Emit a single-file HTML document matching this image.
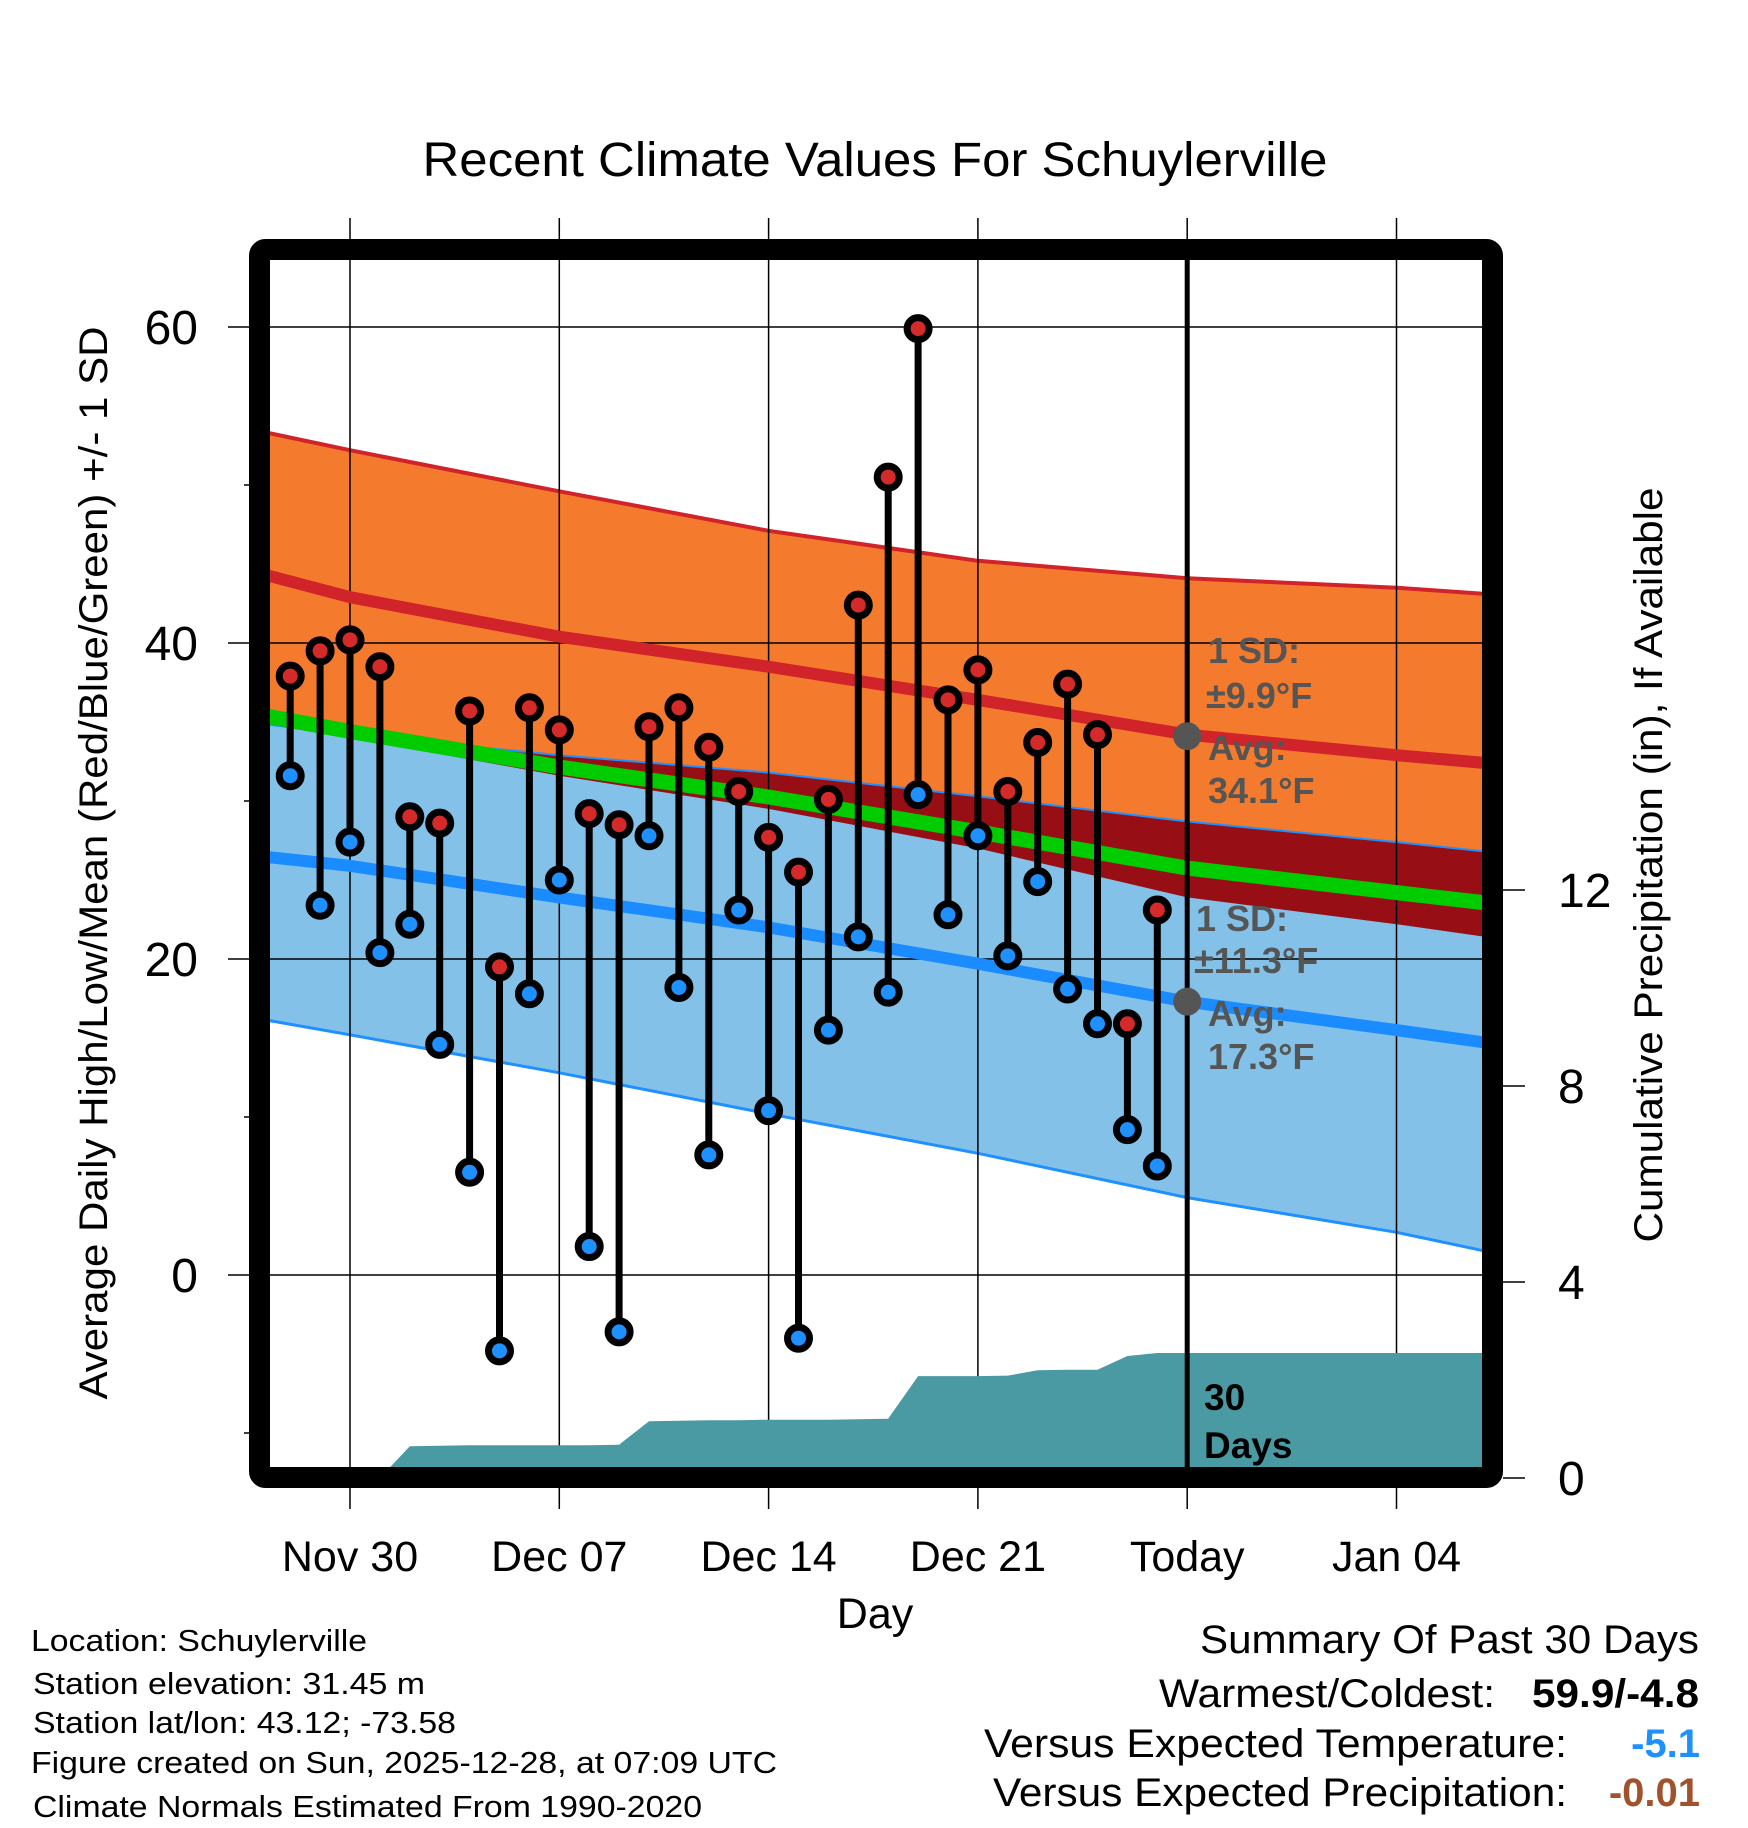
<!DOCTYPE html>
<html><head><meta charset="utf-8"><style>
html,body{margin:0;padding:0;background:#fff;}
svg{display:block;font-family:"Liberation Sans",sans-serif;}
</style></head><body>
<svg id="chart" width="1748" height="1828" viewBox="0 0 1748 1828" xmlns="http://www.w3.org/2000/svg">
<defs><clipPath id="plotclip"><rect x="270" y="260" width="1213" height="1208"/></clipPath></defs>
<rect width="1748" height="1828" fill="#fff"/>
<text x="875" y="176" font-size="48" text-anchor="middle" textLength="905" lengthAdjust="spacingAndGlyphs">Recent Climate Values For Schuylerville</text>
<g id="bands" clip-path="url(#plotclip)"></g>
<g id="grid"></g>
<g id="precip" clip-path="url(#plotclip)"></g>
<g id="lines" clip-path="url(#plotclip)"></g>
<g id="marks"></g>
<g id="annot" font-weight="bold" fill="#555" font-size="36">
<text x="1208" y="663">1 SD:</text>
<text x="1206" y="708">±9.9°F</text>
<text x="1208" y="760">Avg:</text>
<text x="1208" y="803">34.1°F</text>
<text x="1196" y="931">1 SD:</text>
<text x="1194" y="973">±11.3°F</text>
<text x="1208" y="1026">Avg:</text>
<text x="1208" y="1069">17.3°F</text>
</g>
<text x="1204" y="1410" font-size="37" font-weight="bold">30</text>
<text x="1204" y="1458" font-size="37" font-weight="bold">Days</text>
<rect x="259.5" y="249.5" width="1233" height="1228" rx="6" fill="none" stroke="#000" stroke-width="21"/>
<g id="axes"></g>
<text transform="translate(107,863) rotate(-90)" font-size="40" text-anchor="middle" textLength="1073" lengthAdjust="spacingAndGlyphs">Average Daily High/Low/Mean (Red/Blue/Green) +/- 1 SD</text>
<text transform="translate(1662,865) rotate(-90)" font-size="40" text-anchor="middle" textLength="755" lengthAdjust="spacingAndGlyphs">Cumulative Precipitation (in), If Available</text>
<text x="875" y="1628" font-size="43" text-anchor="middle">Day</text>
<g font-size="31">
<text x="31" y="1651" textLength="336" lengthAdjust="spacingAndGlyphs">Location: Schuylerville</text>
<text x="33" y="1694" textLength="392" lengthAdjust="spacingAndGlyphs">Station elevation: 31.45 m</text>
<text x="33" y="1733" textLength="423" lengthAdjust="spacingAndGlyphs">Station lat/lon: 43.12; -73.58</text>
<text x="31" y="1773" textLength="746" lengthAdjust="spacingAndGlyphs">Figure created on Sun, 2025-12-28, at 07:09 UTC</text>
<text x="33" y="1817" textLength="669" lengthAdjust="spacingAndGlyphs">Climate Normals Estimated From 1990-2020</text>
</g>
<g font-size="40" text-anchor="end">
<text x="1699" y="1653" textLength="499" lengthAdjust="spacingAndGlyphs">Summary Of Past 30 Days</text>
<text x="1495" y="1707" textLength="336" lengthAdjust="spacingAndGlyphs">Warmest/Coldest:</text>
<text x="1699" y="1707" font-weight="bold" textLength="167" lengthAdjust="spacingAndGlyphs">59.9/-4.8</text>
<text x="1567" y="1757" textLength="583" lengthAdjust="spacingAndGlyphs">Versus Expected Temperature:</text>
<text x="1700" y="1757" font-weight="bold" fill="#1e90ff">-5.1</text>
<text x="1567" y="1806" textLength="574" lengthAdjust="spacingAndGlyphs">Versus Expected Precipitation:</text>
<text x="1700" y="1806" font-weight="bold" fill="#a0522d">-0.01</text>
</g>
</svg>
<script>
const days = [-2,-1,0,1,2,3,4,5,6,7,8,9,10,11,12,13,14,15,16,17,18,19,20,21,22,23,24,25,26,27];
const highs = [37.9,39.5,40.2,38.5,29.0,28.6,35.7,19.5,35.9,34.5,29.2,28.5,34.7,35.9,33.4,30.6,27.7,25.5,30.1,42.4,50.5,59.9,36.4,38.3,30.6,33.7,37.4,34.2,15.9,23.1];
const lows = [31.6,23.4,27.4,20.4,22.2,14.6,6.5,-4.8,17.8,25.0,1.8,-3.6,27.8,18.2,7.6,23.1,10.4,-4.0,15.5,21.4,17.9,30.4,22.8,27.8,20.2,24.9,18.1,15.9,9.2,6.9];
const precip = [0,0,0,0,0.65,0.66,0.67,0.67,0.67,0.67,0.67,0.68,1.16,1.17,1.18,1.18,1.19,1.19,1.19,1.2,1.21,2.08,2.08,2.08,2.09,2.2,2.21,2.21,2.49,2.55];
const normDays = [-3,0,7,14,21,28,35,38];
const highTop = [53.4,52.2,49.6,47.1,45.2,44.1,43.5,43.1];
const highAvg = [44.4,42.9,40.4,38.5,36.4,34.2,32.9,32.4];
const highBot = [34.9,34.0,31.6,29.5,27.0,23.9,22.2,21.4];
const lowTop = [34.9,34.2,32.9,31.8,30.3,28.7,27.4,26.8];
const lowAvg = [26.5,25.9,23.9,22.0,19.7,17.3,15.5,14.7];
const lowBot = [16.2,15.2,12.8,10.2,7.7,4.9,2.7,1.5];
const xTickDays = [0,7,14,21,28,35];
const xTickLabels = ["Nov 30","Dec 07","Dec 14","Dec 21","Today","Jan 04"];
const yTicks = [0,20,40,60];
const yMinor = [-10,10,30,50];
const y2Ticks = [0,4,8,12];
const todayDay = 28;
const todayHigh = 34.1, todayLow = 17.3;

const NS="http://www.w3.org/2000/svg";
const X = d => 350 + d*29.9;
const Y = t => 1275 - t*15.8;
const PY = p => 1478 - p*49;
function mk(parent, tag, attrs){const e=document.createElementNS(NS,tag);for(const k in attrs)e.setAttribute(k,attrs[k]);document.getElementById(parent).appendChild(e);return e;}
function pts(arr, ds, f){return ds.map((d,i)=>X(d).toFixed(1)+","+f(arr[i]).toFixed(1));}
const revDays = normDays.slice().reverse();

let e;
e=mk('bands','polygon',{points:pts(highTop,normDays,Y).concat(pts(highBot.slice().reverse(),revDays,Y)).join(' '),fill:'#f47a2d'});


e=mk('bands','polyline',{points:pts(highTop,normDays,Y).join(' '),fill:'none',stroke:'#d0232a','stroke-width':4});


e=mk('bands','polygon',{points:pts(lowTop,normDays,Y).concat(pts(lowBot.slice().reverse(),revDays,Y)).join(' '),fill:'#83c1e8'});


e=mk('bands','polygon',{points:pts(lowTop,normDays,Y).concat(pts(highBot.slice().reverse(),revDays,Y)).join(' '),fill:'#970f15'});


e=mk('bands','polyline',{points:pts(lowTop,normDays,Y).join(' '),fill:'none',stroke:'#1e90ff','stroke-width':2});


e=mk('bands','polyline',{points:pts(lowBot,normDays,Y).join(' '),fill:'none',stroke:'#1e90ff','stroke-width':3});



yTicks.forEach(t=>{
  e=mk('grid','line',{x1:228,x2:1483,y1:Y(t),y2:Y(t),stroke:'#000','stroke-width':1.5});
  
  
});
yMinor.forEach(t=>{
  e=mk('grid','line',{x1:244,x2:252,y1:Y(t),y2:Y(t),stroke:'#000','stroke-width':1.5});
  
  
});
xTickDays.forEach(d=>{
  e=mk('grid','line',{x1:X(d),x2:X(d),y1:218,y2:1509,stroke:'#000','stroke-width':1.5});
  
  
});

const pDays = days.concat([38]);
const pVals = precip.concat([precip[precip.length-1]]);
e=mk('precip','polygon',{points:pts(pVals,pDays,PY).concat([X(38)+","+PY(0),X(days[0])+","+PY(0)]).join(' '),fill:'#4a9aa3'});



const meanAvg = highAvg.map((h,i)=>(h+lowAvg[i])/2);
e=mk('lines','polyline',{points:pts(meanAvg,normDays,Y).join(' '),fill:'none',stroke:'#00cc00','stroke-width':15});


e=mk('lines','polyline',{points:pts(highAvg,normDays,Y).join(' '),fill:'none',stroke:'#d0232a','stroke-width':12});


e=mk('lines','polyline',{points:pts(lowAvg,normDays,Y).join(' '),fill:'none',stroke:'#1a8cff','stroke-width':12});


e=mk('lines','line',{x1:X(todayDay),x2:X(todayDay),y1:260,y2:1468,stroke:'#000','stroke-width':5});



days.forEach((d,i)=>{
  e=mk('marks','line',{x1:X(d),x2:X(d),y1:Y(highs[i]),y2:Y(lows[i]),stroke:'#000','stroke-width':7});
  
  
});
days.forEach((d,i)=>{
  e=mk('marks','circle',{cx:X(d),cy:Y(highs[i]),r:11,fill:'#d42a2a',stroke:'#000','stroke-width':7});
  
  
  e=mk('marks','circle',{cx:X(d),cy:Y(lows[i]),r:11,fill:'#1e90ff',stroke:'#000','stroke-width':7});
  
  
});
e=mk('marks','circle',{cx:X(todayDay),cy:Y(todayHigh),r:14,fill:'#555'});


e=mk('marks','circle',{cx:X(todayDay),cy:Y(todayLow),r:14,fill:'#555'});



yTicks.forEach(t=>{
  e=mk('axes','text',{x:198,y:Y(t)+17,'font-size':48,'text-anchor':'end'});
  e.textContent=t;
  
  
});
y2Ticks.forEach(p=>{
  e=mk('axes','line',{x1:1503,x2:1525,y1:PY(p),y2:PY(p),stroke:'#000','stroke-width':1.5});
  
  
  e=mk('axes','text',{x:1558,y:PY(p)+17,'font-size':48});
  e.textContent=p;
  
  
});
xTickDays.forEach((d,i)=>{
  e=mk('axes','text',{x:X(d),y:1571,'font-size':43,'text-anchor':'middle'});
  e.textContent=xTickLabels[i];
  
  
});
</script>
</body></html>
